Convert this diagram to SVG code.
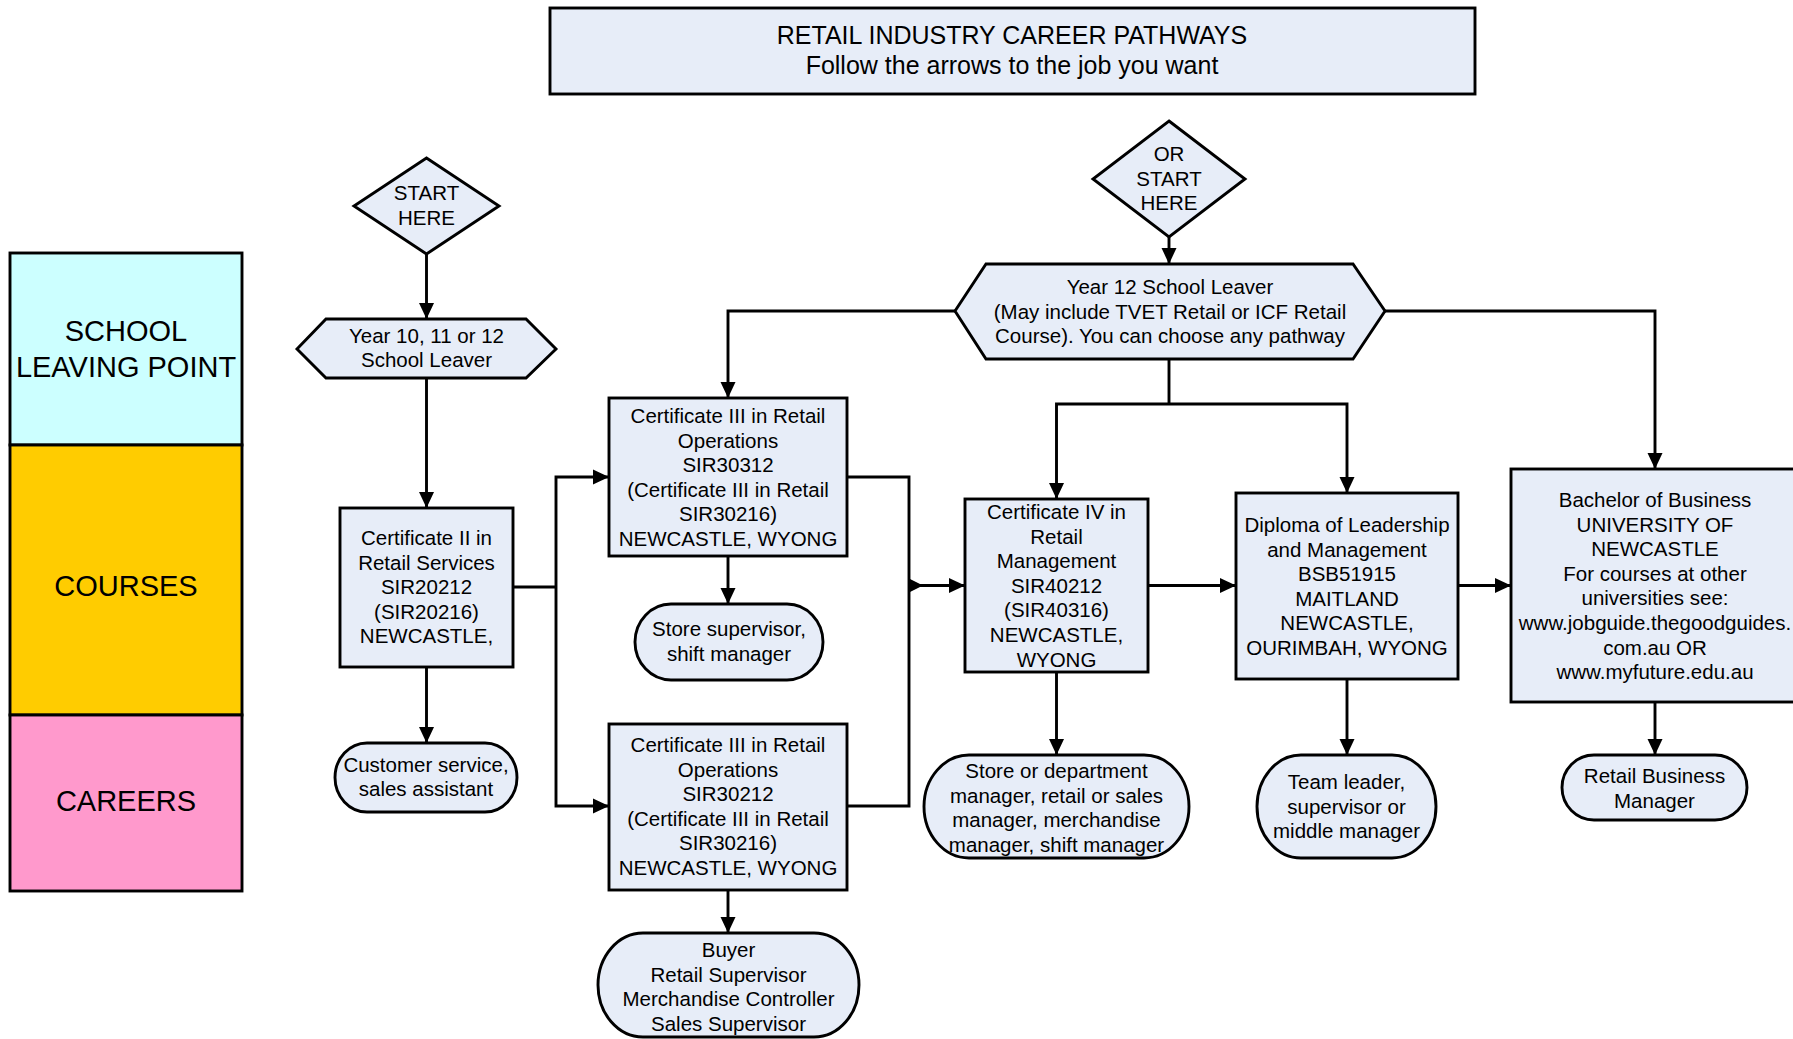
<svg xmlns="http://www.w3.org/2000/svg" width="1793" height="1039" viewBox="0 0 1793 1039">
<defs>
<style>
.n{fill:#E7EDF8;stroke:#000;stroke-width:2.9}
.t{font-family:"Liberation Sans",Arial,sans-serif;font-size:20.5px;fill:#000;text-anchor:middle}
.big{font-size:29px}
.ttl{font-size:25px}
.c{fill:none;stroke:#000;stroke-width:2.9}
</style>
<marker id="ah" markerUnits="userSpaceOnUse" markerWidth="17" markerHeight="17" refX="16" refY="8" orient="auto">
<path d="M0,0.5 L16,8 L0,15.5 Z" fill="#000"/>
</marker>
</defs>
<rect width="1793" height="1039" fill="#fff"/>

<g id="legend-school">
<rect x="10" y="253" width="232" height="192" fill="#CCFFFF" stroke="#000" stroke-width="2.9"/>
<text class="t big" x="126" y="341">SCHOOL</text>
<text class="t big" x="126" y="377">LEAVING POINT</text>
</g>
<g id="legend-courses">
<rect x="10" y="445" width="232" height="270" fill="#FFCC00" stroke="#000" stroke-width="2.9"/>
<text class="t big" x="126" y="596">COURSES</text>
</g>
<g id="legend-careers">
<rect x="10" y="715" width="232" height="176" fill="#FF99CC" stroke="#000" stroke-width="2.9"/>
<text class="t big" x="126" y="811">CAREERS</text>
</g>

<g id="connectors">
<path class="c" d="M426.5,254 V319" marker-end="url(#ah)"/>
<path class="c" d="M426.5,378 V508" marker-end="url(#ah)"/>
<path class="c" d="M426.5,667 V743" marker-end="url(#ah)"/>
<path class="c" d="M513,587 H556"/>
<path class="c" d="M556,587 V477 H609" marker-end="url(#ah)"/>
<path class="c" d="M556,587 V806 H609" marker-end="url(#ah)"/>
<path class="c" d="M728,556 V604" marker-end="url(#ah)"/>
<path class="c" d="M728,890 V933" marker-end="url(#ah)"/>
<path class="c" d="M847,477 H909 V806 H847"/>
<path class="c" d="M909,585.5 H965" marker-end="url(#ah)"/>
<path d="M909,578.5 L923,585.5 L909,592.5 Z" fill="#000"/>
<path class="c" d="M1056.5,672 V755" marker-end="url(#ah)"/>
<path class="c" d="M1148,585.5 H1236" marker-end="url(#ah)"/>
<path class="c" d="M1347,679 V755" marker-end="url(#ah)"/>
<path class="c" d="M1458,585.5 H1511" marker-end="url(#ah)"/>
<path class="c" d="M1655,702 V755" marker-end="url(#ah)"/>
<path class="c" d="M1169,237 V264" marker-end="url(#ah)"/>
<path class="c" d="M955,311 H728 V398" marker-end="url(#ah)"/>
<path class="c" d="M1385,311 H1655 V469" marker-end="url(#ah)"/>
<path class="c" d="M1169,359 V404"/>
<path class="c" d="M1169,404 H1056.5 V499" marker-end="url(#ah)"/>
<path class="c" d="M1169,404 H1347 V493" marker-end="url(#ah)"/>
</g>

<g id="title">
<rect class="n" x="550" y="8" width="925" height="86"/>
<text class="t ttl" x="1012" y="43.5">RETAIL INDUSTRY CAREER PATHWAYS</text>
<text class="t ttl" x="1012" y="73.5">Follow the arrows to the job you want</text>
</g>

<g id="start-here">
<path class="n" d="M426.5,158 L499,206 L426.5,254 L354,206 Z"/>
<text class="t" x="426.5" y="200">START</text>
<text class="t" x="426.5" y="225">HERE</text>
</g>

<g id="year10">
<path class="n" d="M297,349 L326,319 H526 L556,349 L526,378 H326 Z"/>
<text class="t" x="426.5" y="343">Year 10, 11 or 12</text>
<text class="t" x="426.5" y="367">School Leaver</text>
</g>

<g id="cert2">
<rect class="n" x="340" y="508" width="173" height="159"/>
<text class="t" x="426.5" y="545">Certificate II in</text>
<text class="t" x="426.5" y="569.6">Retail Services</text>
<text class="t" x="426.5" y="594.2">SIR20212</text>
<text class="t" x="426.5" y="618.8">(SIR20216)</text>
<text class="t" x="426.5" y="643.4">NEWCASTLE,</text>
</g>

<g id="customer">
<path class="n" d="M367,743 H485 A32,34.5 0 0 1 485,812 H367 A32,34.5 0 0 1 367,743 Z"/>
<text class="t" x="426" y="772">Customer service,</text>
<text class="t" x="426" y="796">sales assistant</text>
</g>

<g id="cert3a">
<rect class="n" x="609" y="398" width="238" height="158"/>
<text class="t" x="728" y="423">Certificate III in Retail</text>
<text class="t" x="728" y="447.6">Operations</text>
<text class="t" x="728" y="472.2">SIR30312</text>
<text class="t" x="728" y="496.8">(Certificate III in Retail</text>
<text class="t" x="728" y="521.4">SIR30216)</text>
<text class="t" x="728" y="546">NEWCASTLE, WYONG</text>
</g>

<g id="store-supervisor">
<path class="n" d="M671,604 H787 A36,38 0 0 1 787,680 H671 A36,38 0 0 1 671,604 Z"/>
<text class="t" x="729" y="636">Store supervisor,</text>
<text class="t" x="729" y="661">shift manager</text>
</g>

<g id="cert3b">
<rect class="n" x="609" y="724" width="238" height="166"/>
<text class="t" x="728" y="752">Certificate III in Retail</text>
<text class="t" x="728" y="776.6">Operations</text>
<text class="t" x="728" y="801.2">SIR30212</text>
<text class="t" x="728" y="825.8">(Certificate III in Retail</text>
<text class="t" x="728" y="850.4">SIR30216)</text>
<text class="t" x="728" y="875">NEWCASTLE, WYONG</text>
</g>

<g id="buyer">
<path class="n" d="M643,933 H814 A45,52 0 0 1 814,1037 H643 A45,52 0 0 1 643,933 Z"/>
<text class="t" x="728.5" y="957">Buyer</text>
<text class="t" x="728.5" y="981.6">Retail Supervisor</text>
<text class="t" x="728.5" y="1006.2">Merchandise Controller</text>
<text class="t" x="728.5" y="1030.8">Sales Supervisor</text>
</g>

<g id="or-start-here">
<path class="n" d="M1169,121 L1245,179 L1169,237 L1093,179 Z"/>
<text class="t" x="1169" y="161">OR</text>
<text class="t" x="1169" y="185.6">START</text>
<text class="t" x="1169" y="210.2">HERE</text>
</g>

<g id="year12">
<path class="n" d="M955,311 L986,264 H1353 L1385,311 L1353,359 H986 Z"/>
<text class="t" x="1170" y="294">Year 12 School Leaver</text>
<text class="t" x="1170" y="318.6">(May include TVET Retail or ICF Retail</text>
<text class="t" x="1170" y="343.2">Course). You can choose any pathway</text>
</g>

<g id="cert4">
<rect class="n" x="965" y="499" width="183" height="173"/>
<text class="t" x="1056.5" y="519">Certificate IV in</text>
<text class="t" x="1056.5" y="543.6">Retail</text>
<text class="t" x="1056.5" y="568.2">Management</text>
<text class="t" x="1056.5" y="592.8">SIR40212</text>
<text class="t" x="1056.5" y="617.4">(SIR40316)</text>
<text class="t" x="1056.5" y="642">NEWCASTLE,</text>
<text class="t" x="1056.5" y="666.6">WYONG</text>
</g>

<g id="store-dept">
<path class="n" d="M969,755 H1144 A45,51.5 0 0 1 1144,858 H969 A45,51.5 0 0 1 969,755 Z"/>
<text class="t" x="1056.5" y="778">Store or department</text>
<text class="t" x="1056.5" y="802.6">manager, retail or sales</text>
<text class="t" x="1056.5" y="827.2">manager, merchandise</text>
<text class="t" x="1056.5" y="851.8">manager, shift manager</text>
</g>

<g id="diploma">
<rect class="n" x="1236" y="493" width="222" height="186"/>
<text class="t" x="1347" y="532">Diploma of Leadership</text>
<text class="t" x="1347" y="556.6">and Management</text>
<text class="t" x="1347" y="581.2">BSB51915</text>
<text class="t" x="1347" y="605.8">MAITLAND</text>
<text class="t" x="1347" y="630.4">NEWCASTLE,</text>
<text class="t" x="1347" y="655">OURIMBAH, WYONG</text>
</g>

<g id="team-leader">
<path class="n" d="M1301,755 H1392 A44,51.5 0 0 1 1392,858 H1301 A44,51.5 0 0 1 1301,755 Z"/>
<text class="t" x="1346.5" y="789">Team leader,</text>
<text class="t" x="1346.5" y="813.6">supervisor or</text>
<text class="t" x="1346.5" y="838.2">middle manager</text>
</g>

<g id="bachelor">
<rect class="n" x="1511" y="469" width="290" height="233"/>
<text class="t" x="1655" y="507">Bachelor of Business</text>
<text class="t" x="1655" y="531.6">UNIVERSITY OF</text>
<text class="t" x="1655" y="556.2">NEWCASTLE</text>
<text class="t" x="1655" y="580.8">For courses at other</text>
<text class="t" x="1655" y="605.4">universities see:</text>
<text class="t" x="1655" y="630">www.jobguide.thegoodguides.</text>
<text class="t" x="1655" y="654.6">com.au OR</text>
<text class="t" x="1655" y="679.2">www.myfuture.edu.au</text>
</g>

<g id="retail-business-manager">
<path class="n" d="M1594,755 H1715 A32,32.5 0 0 1 1715,820 H1594 A32,32.5 0 0 1 1594,755 Z"/>
<text class="t" x="1654.5" y="783">Retail Business</text>
<text class="t" x="1654.5" y="807.6">Manager</text>
</g>
</svg>
